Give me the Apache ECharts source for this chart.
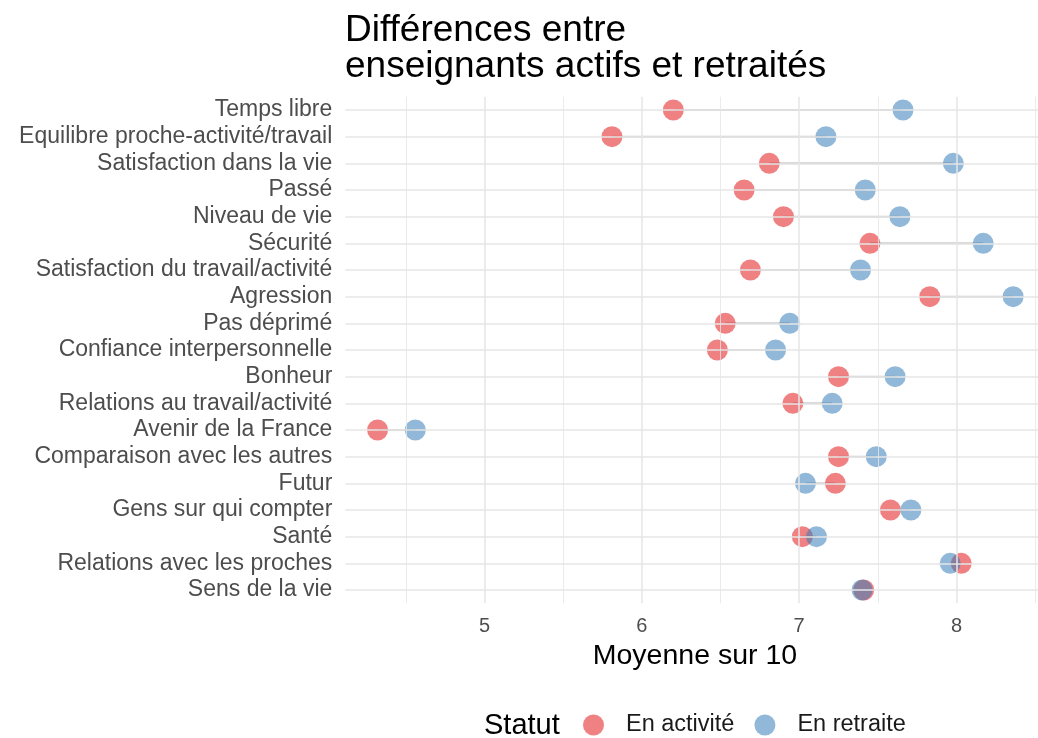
<!DOCTYPE html>
<html>
<head>
    <meta charset="utf-8">
    <title>Différences entre enseignants actifs et retraités</title>
    <script src="https://cdn.jsdelivr.net/npm/echarts@6/dist/echarts.min.js"></script>
    <style>
        html, body { margin: 0; padding: 0; background: #fff; }
    </style>
</head>
<body>
    <div id="main" style="width: 1038px;height:738px;"></div>
    <script type="text/javascript">
        // items, top to bottom
        var categories = [
            'Temps libre',
            'Equilibre proche-activité/travail',
            'Satisfaction dans la vie',
            'Passé',
            'Niveau de vie',
            'Sécurité',
            'Satisfaction du travail/activité',
            'Agression',
            'Pas déprimé',
            'Confiance interpersonnelle',
            'Bonheur',
            'Relations au travail/activité',
            'Avenir de la France',
            'Comparaison avec les autres',
            'Futur',
            'Gens sur qui compter',
            'Santé',
            'Relations avec les proches',
            'Sens de la vie'
        ];
        // mean scores out of 10
        var enActivite = [6.20, 5.81, 6.81, 6.65, 6.90, 7.45, 6.69, 7.83, 6.53, 6.48, 7.25, 6.96, 4.32, 7.25, 7.23, 7.58, 7.02, 8.03, 7.41];
        var enRetraite = [7.66, 7.17, 7.98, 7.42, 7.64, 8.17, 7.39, 8.36, 6.94, 6.85, 7.61, 7.21, 4.56, 7.49, 7.04, 7.71, 7.11, 7.96, 7.40];

        var xTicks = [5, 6, 7, 8];
        var xMinorTicks = [4.5, 5.5, 6.5, 7.5, 8.5];

        var font = '"Liberation Sans", Arial, sans-serif';
        var gridColor = '#e6e6e6';

        var myChart = echarts.init(document.getElementById('main'), null, { renderer: 'canvas' });

        // grid lines (ggplot theme_minimal look)
        var gridLines = [];
        xTicks.forEach(function (v) {
            gridLines.push({ xAxis: v, lineStyle: { width: 1.5, color: gridColor, type: 'solid' } });
        });
        xMinorTicks.forEach(function (v) {
            gridLines.push({ xAxis: v, lineStyle: { width: 0.8, color: gridColor, type: 'solid' } });
        });
        categories.forEach(function (c) {
            gridLines.push({ yAxis: c, lineStyle: { width: 1.5, color: gridColor, type: 'solid' } });
        });

        var segments = enActivite.map(function (v, i) {
            return [v, enRetraite[i], i];
        });

        var option = {
            animation: false,
            textStyle: { fontFamily: font },
            title: [{
                text: 'Différences entre\nenseignants actifs et retraités',
                left: 345,
                top: 13,
                padding: 0,
                textStyle: { fontSize: 37, fontWeight: 'normal', lineHeight: 36, color: '#000', fontFamily: font }
            }, {
                text: 'Statut',
                left: 484,
                top: 711,
                padding: 0,
                textStyle: { fontSize: 29, fontWeight: 'normal', lineHeight: 29, color: '#000', fontFamily: font }
            }],
            legend: {
                data: ['En activité', 'En retraite'],
                left: 583,
                top: 713,
                padding: 0,
                itemWidth: 21,
                itemHeight: 21,
                itemGap: 20,
                icon: 'circle',
                textStyle: { fontSize: 23.5, color: '#1a1a1a', padding: [0, 0, 0, 17], fontFamily: font }
            },
            grid: {
                left: 345.3,
                right: -6.6,
                top: 96.67,
                bottom: 134.7,
                containLabel: false,
                outerBoundsMode: 'none'
            },
            xAxis: {
                type: 'value',
                min: 4.115,
                max: 8.56,
                axisLine: { show: false },
                axisTick: { show: false },
                splitLine: { show: false },
                axisLabel: {
                    customValues: xTicks,
                    fontSize: 20,
                    color: '#4d4d4d',
                    margin: 13
                },
                name: 'Moyenne sur 10',
                nameLocation: 'middle',
                nameGap: 36,
                nameTextStyle: { fontSize: 28.5, color: '#000' }
            },
            yAxis: {
                type: 'category',
                data: categories,
                inverse: true,
                axisLine: { show: false },
                axisTick: { show: false },
                splitLine: { show: false },
                axisLabel: {
                    interval: 0,
                    fontSize: 23,
                    color: '#4d4d4d',
                    margin: 13
                }
            },
            series: [{
                name: 'grille',
                type: 'scatter',
                data: [],
                silent: true,
                z: 0,
                markLine: {
                    silent: true,
                    symbol: ['none', 'none'],
                    label: { show: false },
                    emphasis: { disabled: true },
                    data: gridLines
                }
            }, {
                name: 'écart',
                type: 'custom',
                z: 1,
                silent: true,
                encode: { x: [0, 1], y: 2 },
                data: segments,
                renderItem: function (params, api) {
                    var p1 = api.coord([api.value(0), api.value(2)]);
                    var p2 = api.coord([api.value(1), api.value(2)]);
                    return {
                        type: 'line',
                        shape: { x1: p1[0], y1: p1[1], x2: p2[0], y2: p2[1] },
                        style: { stroke: '#cccccc', lineWidth: 2 }
                    };
                }
            }, {
                name: 'En activité',
                type: 'scatter',
                z: 2,
                symbolSize: 21,
                itemStyle: { color: '#E41A1C', opacity: 0.55 },
                data: enActivite.map(function (v, i) { return [v, i]; })
            }, {
                name: 'En retraite',
                type: 'scatter',
                z: 3,
                symbolSize: 21,
                itemStyle: { color: '#377EB8', opacity: 0.55 },
                data: enRetraite.map(function (v, i) { return [v, i]; })
            }]
        };

        myChart.setOption(option);
    </script>
</body>
</html>
